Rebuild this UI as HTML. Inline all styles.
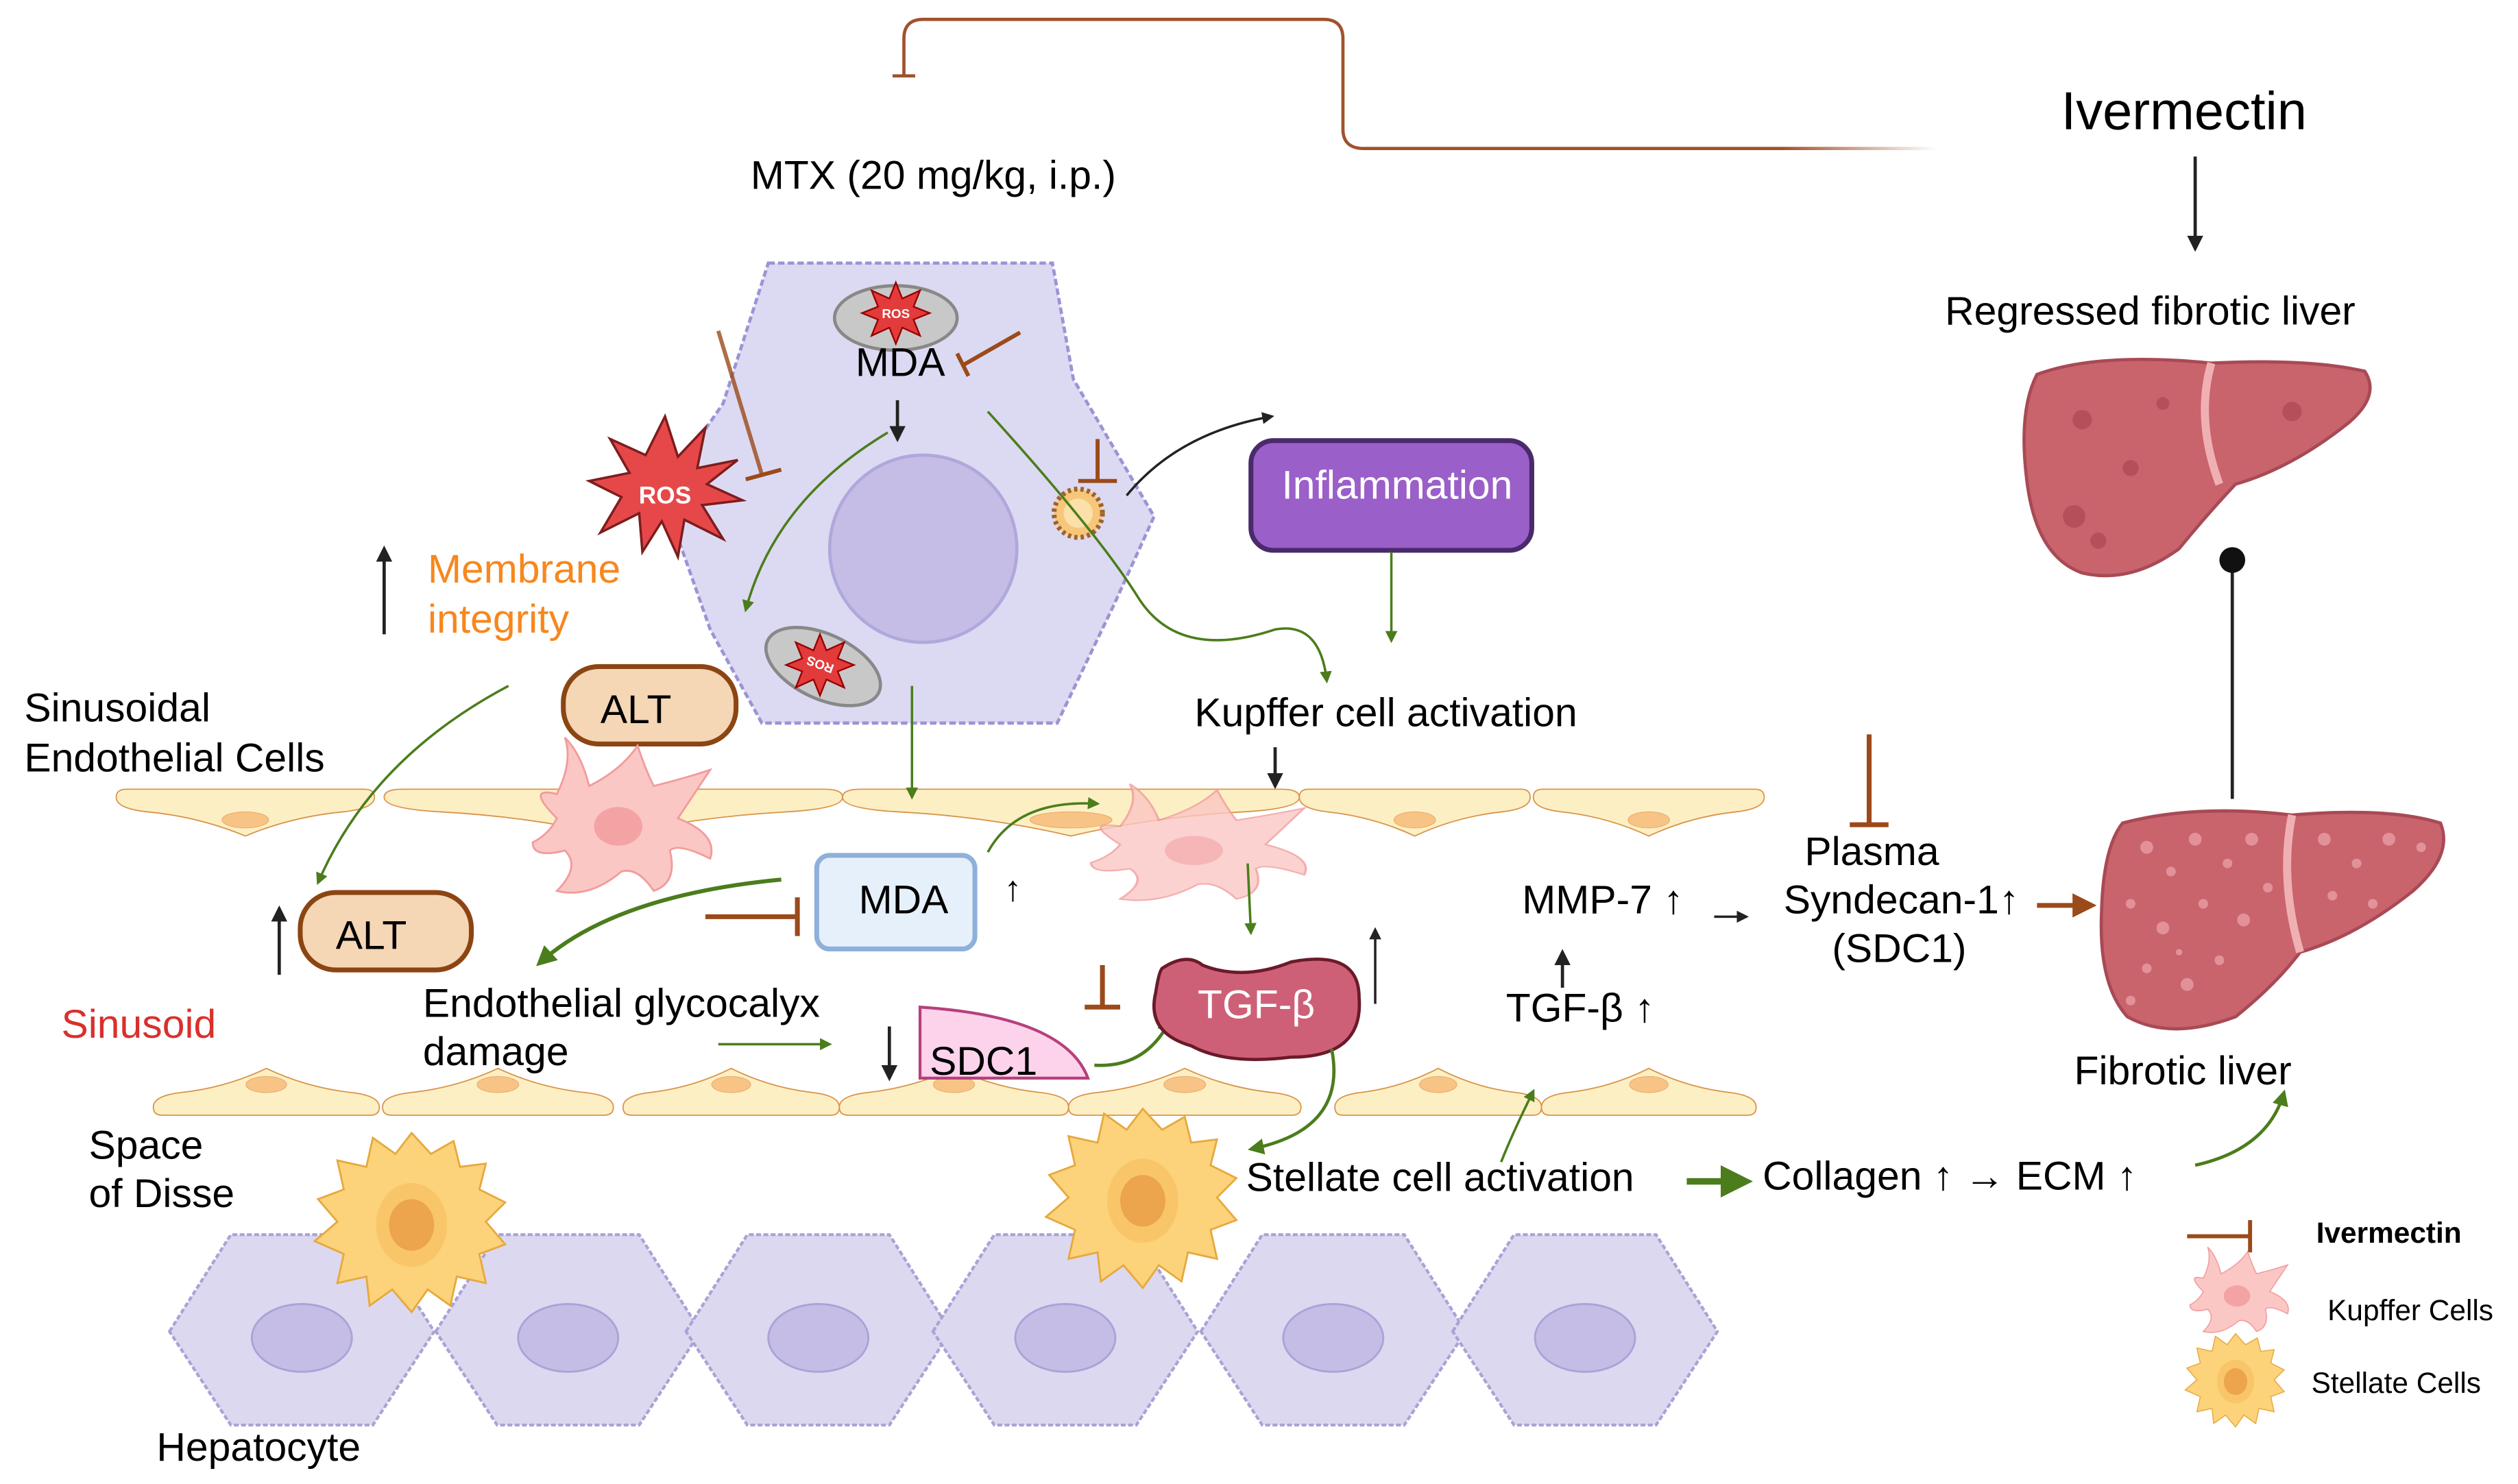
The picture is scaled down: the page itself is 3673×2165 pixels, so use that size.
<!DOCTYPE html>
<html><head><meta charset="utf-8"><style>
html,body{margin:0;padding:0;background:#fff}
svg{display:block}
text{font-family:"Liberation Sans",sans-serif;}
</style></head><body>
<svg width="3673" height="2165" viewBox="0 0 1560 919.5" xmlns="http://www.w3.org/2000/svg">
<defs>
<marker id="ag" viewBox="0 0 10 10" refX="8" refY="5" markerWidth="5" markerHeight="5" orient="auto"><path d="M0,0 L10,5 L0,10 z" fill="#4b7d1c"/></marker>
<marker id="ak" viewBox="0 0 10 10" refX="8" refY="5" markerWidth="5" markerHeight="5" orient="auto"><path d="M0,0 L10,5 L0,10 z" fill="#222"/></marker>
<marker id="ab" viewBox="0 0 10 10" refX="8" refY="5" markerWidth="5" markerHeight="5" orient="auto"><path d="M0,0 L10,5 L0,10 z" fill="#9b4a1a"/></marker>
<linearGradient id="fadeL" x1="0" x2="1"><stop offset="0" stop-color="#a0522d"/><stop offset="0.85" stop-color="#a0522d"/><stop offset="1" stop-color="#a0522d" stop-opacity="0"/></linearGradient>
<g id="ec"><path d="M4,1 Q0,1 0,6 Q0,13 12,15 Q32,18 50,30 Q68,18 88,15 Q100,13 100,6 Q100,1 96,1 Z" fill="#fdefc4" stroke="#d9944a" stroke-width="1.8" vector-effect="non-scaling-stroke"/><ellipse cx="50" cy="20" rx="9" ry="5" fill="#f7c486" stroke="#e8a968" stroke-width="1" vector-effect="non-scaling-stroke"/></g>
<g id="hep"><path d="M-82,0 L-44,-60 L44,-60 L82,0 L44,58 L-44,58 Z" fill="#dcd8f0" stroke="#a9a3d6" stroke-width="1.8" stroke-dasharray="3 1.5"/><ellipse cx="0" cy="4" rx="31" ry="21" fill="#c5bde6" stroke="#a9a3d6" stroke-width="1.2"/></g>
<g id="stel"><path d="M0,-55 L12,-42 L26,-50 L30,-34 L46,-36 L42,-20 L58,-12 L46,0 L58,14 L42,20 L46,38 L28,34 L24,52 L10,42 L0,56 L-12,42 L-26,52 L-28,34 L-46,38 L-42,20 L-60,12 L-46,0 L-58,-14 L-42,-20 L-46,-38 L-28,-34 L-24,-52 L-10,-42 Z" fill="#fcd27a" stroke="#e6a93e" stroke-width="1.2"/><ellipse cx="0" cy="2" rx="22" ry="26" fill="#f7c063" opacity="0.7"/><ellipse cx="0" cy="2" rx="14" ry="16" fill="#eca54c"/></g>
<g id="kup"><path d="M-40,-5 Q-60,-25 -40,-20 Q-30,-40 -35,-55 Q-25,-45 -20,-25 Q0,-35 10,-50 Q15,-35 20,-25 Q40,-30 55,-35 Q45,-20 35,-5 Q60,5 55,20 Q35,10 30,15 Q35,35 20,40 Q10,25 0,28 Q-20,45 -40,40 Q-25,25 -35,15 Q-55,20 -55,10 Q-45,5 -40,-5 Z" fill="#fbc7c4" stroke="#f19c9c" stroke-width="1.2"/><ellipse cx="-2" cy="0" rx="15" ry="12" fill="#f4a3a5"/></g>
</defs>

<path d="M1200,92 L845,92 Q832,92 832,80 L832,24 Q832,12 820,12 L572,12 Q560,12 560,24 L560,47" fill="none" stroke="url(#fadeL)" stroke-width="2"/>
<line x1="553" y1="47" x2="567" y2="47" stroke="#a0522d" stroke-width="2"/>

<text x="465" y="117" font-size="25">MTX (20 mg/kg, i.p.)</text>
<text x="1277" y="80" font-size="33">Ivermectin</text>
<line x1="1360" y1="97" x2="1360" y2="154" stroke="#222" stroke-width="2" marker-end="url(#ak)"/>
<text x="1205" y="201" font-size="25">Regressed fibrotic liver</text>

<path d="M1262,232 Q1300,218 1370,225 Q1430,222 1465,230 Q1475,245 1455,262 Q1420,290 1385,300 Q1368,318 1350,340 Q1320,362 1290,355 Q1262,345 1256,300 Q1250,255 1262,232 Z" fill="#c9636c" stroke="#a84a55" stroke-width="2"/>
<path d="M1370,225 Q1360,260 1375,300" stroke="#f0b0b3" stroke-width="5" fill="none"/>
<g fill="#a84450" opacity="0.6"><circle cx="1290" cy="260" r="6"/><circle cx="1320" cy="290" r="5"/><circle cx="1285" cy="320" r="7"/><circle cx="1420" cy="255" r="6"/><circle cx="1340" cy="250" r="4"/><circle cx="1300" cy="335" r="5"/></g>
<line x1="1383" y1="495" x2="1383" y2="348" stroke="#222" stroke-width="2"/>
<circle cx="1383" cy="347" r="8" fill="#111"/>

<path d="M476,163 L652,163 L665,235 L715,320 L690,375 L655,448 L472,448 L440,390 L410,305 L448,250 Z" fill="#dcdaf2" stroke="#9c94d4" stroke-width="2" stroke-dasharray="4 2"/>
<circle cx="572" cy="340" r="58" fill="#c5bde6" stroke="#b0a8dc" stroke-width="2"/>
<ellipse cx="555" cy="197" rx="38" ry="20" fill="#c8c8c8" stroke="#888" stroke-width="2"/>
<polygon points="555,175 559,185 570,180 566,190 576,194 566,198 570,208 559,203 555,213 551,203 540,208 544,198 534,194 544,190 540,180 551,185" fill="#e23b3b" stroke="#900" stroke-width="1"/>
<text x="555" y="197" font-size="8" fill="#fff" text-anchor="middle" font-weight="bold">ROS</text>
<ellipse cx="510" cy="413" rx="38" ry="20" fill="#c8c8c8" stroke="#888" stroke-width="2" transform="rotate(25 510 413)"/>
<polygon points="508,393 512,403 523,398 519,408 529,412 519,416 523,426 512,421 508,431 504,421 493,426 497,416 487,412 497,408 493,398 504,403" fill="#e23b3b" stroke="#900" stroke-width="1"/>
<text x="508" y="415" font-size="8" fill="#fff" text-anchor="middle" font-weight="bold" transform="rotate(200 508 412)">ROS</text>
<text x="530" y="233" font-size="25">MDA</text>
<line x1="556" y1="248" x2="556" y2="272" stroke="#222" stroke-width="2" marker-end="url(#ak)"/>
<line x1="632" y1="206" x2="597" y2="226" stroke="#9b4a1a" stroke-width="2.5"/>
<line x1="593" y1="219" x2="600" y2="233" stroke="#9b4a1a" stroke-width="2.5"/>
<polygon points="412,258 420,283 437,265 432,290 457,285 438,300 460,310 435,313 448,334 424,322 420,345 410,323 398,342 396,318 372,330 385,308 365,298 390,293 378,272 400,282" fill="#e6484a" stroke="#7d1d1d" stroke-width="1.5"/>
<text x="412" y="312" font-size="15" fill="#fff" font-weight="bold" text-anchor="middle">ROS</text>
<line x1="445" y1="205" x2="472" y2="294" stroke="#9b4a1a" stroke-width="2.5" opacity="0.8"/>
<line x1="462" y1="297" x2="484" y2="291" stroke="#9b4a1a" stroke-width="2.5"/>
<path d="M550,268 Q480,310 462,378" fill="none" stroke="#4b7d1c" stroke-width="1.5" marker-end="url(#ag)"/>
<line x1="680" y1="272" x2="680" y2="298" stroke="#9b4a1a" stroke-width="2.5"/>
<line x1="668" y1="298" x2="692" y2="298" stroke="#9b4a1a" stroke-width="2.5"/>
<circle cx="668" cy="318" r="15" fill="#f6c77a" stroke="#a0622a" stroke-width="3" stroke-dasharray="2 2"/>
<circle cx="668" cy="318" r="9" fill="#fbe0a9"/>
<path d="M698,307 Q730,268 788,258" fill="none" stroke="#222" stroke-width="1.5" marker-end="url(#ak)"/>
<path d="M612,255 Q680,330 705,370 Q730,410 790,390 Q818,385 822,422" fill="none" stroke="#4b7d1c" stroke-width="1.5" marker-end="url(#ag)"/>
<rect x="775" y="273" width="174" height="68" rx="14" fill="#9a5fc8" stroke="#4a2a6b" stroke-width="3"/>
<text x="794" y="309" font-size="25" fill="#fff">Inflammation</text>
<line x1="862" y1="342" x2="862" y2="397" stroke="#4b7d1c" stroke-width="1.5" marker-end="url(#ag)"/>

<line x1="238" y1="393" x2="238" y2="340" stroke="#222" stroke-width="2" marker-end="url(#ak)"/>
<text x="265" y="361" font-size="25" fill="#f7871e">Membrane</text>
<text x="265" y="392" font-size="25" fill="#f7871e">integrity</text>
<text x="15" y="447" font-size="25">Sinusoidal</text>
<text x="15" y="478" font-size="25">Endothelial Cells</text>
<rect x="349" y="413" width="107" height="48" rx="22" fill="#f5d6b5" stroke="#8b4513" stroke-width="3"/>
<text x="372" y="448" font-size="25">ALT</text>
<text x="740" y="450" font-size="25">Kupffer cell activation</text>
<line x1="790" y1="463" x2="790" y2="487" stroke="#222" stroke-width="2" marker-end="url(#ak)"/>

<use href="#ec" transform="translate(72,488) scale(1.6,1)"/>
<use href="#ec" transform="translate(238,488) scale(2.84,1)"/>
<use href="#ec" transform="translate(522,488) scale(2.83,1)"/>
<use href="#ec" transform="translate(805,488) scale(1.43,1)"/>
<use href="#ec" transform="translate(950,488) scale(1.43,1)"/>
<use href="#ec" transform="translate(95,692) scale(1.4,-1)"/>
<use href="#ec" transform="translate(237,692) scale(1.43,-1)"/>
<use href="#ec" transform="translate(386,692) scale(1.34,-1)"/>
<use href="#ec" transform="translate(520,692) scale(1.42,-1)"/>
<use href="#ec" transform="translate(662,692) scale(1.44,-1)"/>
<use href="#ec" transform="translate(827,692) scale(1.28,-1)"/>
<use href="#ec" transform="translate(955,692) scale(1.33,-1)"/>

<use href="#kup" transform="translate(385,512)"/>
<use href="#kup" transform="translate(742,527) scale(1.2,0.75)" opacity="0.8"/>

<line x1="565" y1="425" x2="565" y2="494" stroke="#4b7d1c" stroke-width="1.5" marker-end="url(#ag)"/>
<path d="M612,528 Q630,495 680,498" fill="none" stroke="#4b7d1c" stroke-width="1.5" marker-end="url(#ag)"/>
<line x1="773" y1="535" x2="775" y2="578" stroke="#4b7d1c" stroke-width="1.5" marker-end="url(#ag)"/>
<line x1="852" y1="622" x2="852" y2="576" stroke="#222" stroke-width="1.5" marker-end="url(#ak)"/>

<path d="M315,425 Q230,470 197,547" fill="none" stroke="#4b7d1c" stroke-width="1.5" marker-end="url(#ag)"/>
<line x1="173" y1="604" x2="173" y2="563" stroke="#222" stroke-width="2" marker-end="url(#ak)"/>
<rect x="186" y="553" width="106" height="48" rx="22" fill="#f5d6b5" stroke="#8b4513" stroke-width="3"/>
<text x="208" y="588" font-size="25">ALT</text>
<rect x="506" y="530" width="98" height="58" rx="8" fill="#e6f0fb" stroke="#8eb0da" stroke-width="3"/>
<text x="532" y="566" font-size="25">MDA</text>
<text x="622" y="558" font-size="22">↑</text>
<path d="M484,545 Q380,555 334,597" fill="none" stroke="#4b7d1c" stroke-width="2.5" marker-end="url(#ag)"/>
<line x1="437" y1="568" x2="494" y2="568" stroke="#9b4a1a" stroke-width="3"/>
<line x1="494" y1="556" x2="494" y2="580" stroke="#9b4a1a" stroke-width="3"/>
<text x="38" y="643" font-size="25" fill="#d9302c">Sinusoid</text>
<text x="262" y="630" font-size="25">Endothelial glycocalyx</text>
<text x="262" y="660" font-size="25">damage</text>
<line x1="445" y1="647" x2="514" y2="647" stroke="#4b7d1c" stroke-width="1.5" marker-end="url(#ag)"/>
<line x1="551" y1="636" x2="551" y2="668" stroke="#222" stroke-width="2" marker-end="url(#ak)"/>
<path d="M570,624 L570,668 L674,668 Q660,630 570,624 Z" fill="#fdd3ec" stroke="#b5407c" stroke-width="1.8"/>
<text x="576" y="666" font-size="25">SDC1</text>
<path d="M678,660 Q710,662 725,632" fill="none" stroke="#4b7d1c" stroke-width="2" marker-end="url(#ag)"/>
<line x1="683" y1="598" x2="683" y2="624" stroke="#9b4a1a" stroke-width="3"/>
<line x1="672" y1="624" x2="694" y2="624" stroke="#9b4a1a" stroke-width="3"/>
<path d="M720,600 Q735,590 745,598 Q770,608 800,596 Q842,588 842,618 Q845,655 800,655 Q760,660 738,648 Q710,640 716,615 Q718,602 720,600 Z" fill="#cd6077" stroke="#6b1a2a" stroke-width="2"/>
<text x="742" y="631" font-size="25" fill="#fff">TGF-β</text>
<path d="M825,650 Q835,700 775,712" fill="none" stroke="#4b7d1c" stroke-width="2" marker-end="url(#ag)"/>

<text x="943" y="566" font-size="25">MMP-7 ↑</text>
<line x1="1062" y1="568" x2="1082" y2="568" stroke="#222" stroke-width="1.5" marker-end="url(#ak)"/>
<line x1="968" y1="612" x2="968" y2="590" stroke="#222" stroke-width="2" marker-end="url(#ak)"/>
<text x="933" y="633" font-size="25">TGF-β ↑</text>
<line x1="1158" y1="455" x2="1158" y2="511" stroke="#9b4a1a" stroke-width="3"/>
<line x1="1146" y1="511" x2="1170" y2="511" stroke="#9b4a1a" stroke-width="3"/>
<text x="1118" y="536" font-size="25">Plasma</text>
<text x="1105" y="566" font-size="25">Syndecan-1↑</text>
<text x="1135" y="596" font-size="25">(SDC1)</text>
<line x1="1262" y1="561" x2="1296" y2="561" stroke="#9b4a1a" stroke-width="3" marker-end="url(#ab)"/>

<path d="M1315,510 Q1360,498 1420,505 Q1480,500 1512,510 Q1520,530 1495,552 Q1460,580 1425,590 Q1410,610 1385,630 Q1345,645 1318,630 Q1300,610 1302,565 Q1303,525 1315,510 Z" fill="#c9636c" stroke="#a84a55" stroke-width="2"/>
<path d="M1420,505 Q1412,545 1425,590" stroke="#f0b0b3" stroke-width="5" fill="none"/>
<g fill="#e89aa2" opacity="0.85">
<circle cx="1330" cy="525" r="4"/><circle cx="1345" cy="540" r="3"/><circle cx="1360" cy="520" r="4"/><circle cx="1380" cy="535" r="3"/><circle cx="1395" cy="520" r="4"/><circle cx="1320" cy="560" r="3"/><circle cx="1340" cy="575" r="4"/><circle cx="1365" cy="560" r="3"/><circle cx="1390" cy="570" r="4"/><circle cx="1330" cy="600" r="3"/><circle cx="1355" cy="610" r="4"/><circle cx="1375" cy="595" r="3"/><circle cx="1440" cy="520" r="4"/><circle cx="1460" cy="535" r="3"/><circle cx="1480" cy="520" r="4"/><circle cx="1445" cy="555" r="3"/><circle cx="1500" cy="525" r="3"/><circle cx="1405" cy="550" r="3"/><circle cx="1320" cy="620" r="3"/><circle cx="1350" cy="590" r="2"/><circle cx="1470" cy="560" r="3"/>
</g>
<text x="1285" y="672" font-size="25">Fibrotic liver</text>

<use href="#hep" transform="translate(187,825)"/>
<use href="#hep" transform="translate(352,825)"/>
<use href="#hep" transform="translate(507,825)"/>
<use href="#hep" transform="translate(660,825)"/>
<use href="#hep" transform="translate(826,825)"/>
<use href="#hep" transform="translate(982,825)"/>
<use href="#stel" transform="translate(255,757)"/>
<use href="#stel" transform="translate(708,742)"/>

<text x="55" y="718" font-size="25">Space</text>
<text x="55" y="748" font-size="25">of Disse</text>
<text x="772" y="738" font-size="25">Stellate cell activation</text>
<path d="M930,720 Q938,700 950,676" fill="none" stroke="#4b7d1c" stroke-width="1.5" marker-end="url(#ag)"/>
<line x1="1045" y1="732" x2="1082" y2="732" stroke="#4b7d1c" stroke-width="4" marker-end="url(#ag)"/>
<text x="1092" y="737" font-size="25">Collagen ↑ → ECM ↑</text>
<path d="M1360,722 Q1405,712 1415,677" fill="none" stroke="#4b7d1c" stroke-width="2" marker-end="url(#ag)"/>
<text x="97" y="905" font-size="25">Hepatocyte</text>

<line x1="1355" y1="766" x2="1394" y2="766" stroke="#9b4a1a" stroke-width="2.5"/>
<line x1="1394" y1="756" x2="1394" y2="776" stroke="#9b4a1a" stroke-width="2.5"/>
<text x="1435" y="770" font-size="18" font-weight="bold">Ivermectin</text>
<use href="#kup" transform="translate(1387,803) scale(0.55)"/>
<text x="1442" y="818" font-size="18">Kupffer Cells</text>
<use href="#stel" transform="translate(1385,855) scale(0.52)"/>
<text x="1432" y="863" font-size="18">Stellate Cells</text>
</svg>
</body></html>
